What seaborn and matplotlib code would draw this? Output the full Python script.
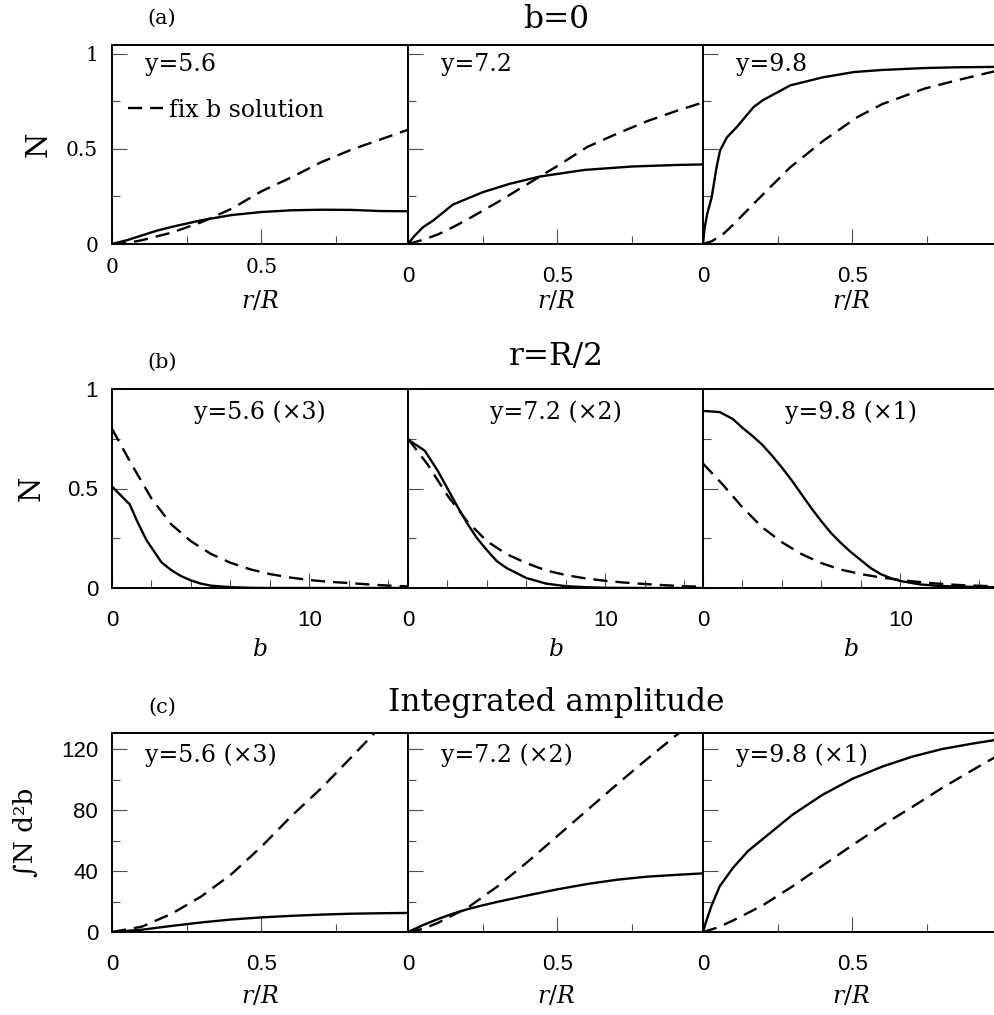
import numpy as np
import pandas as pd
import seaborn as sns
import matplotlib.pyplot as plt
from matplotlib.lines import Line2D
from matplotlib.ticker import MultipleLocator, FixedLocator, FuncFormatter

sns.set_style("ticks")
plt.rcParams['font.family'] = ['DejaVu Serif']
plt.rcParams['mathtext.fontset'] = 'dejavuserif'
plt.rcParams['text.color'] = 'black'
plt.rcParams['axes.labelcolor'] = 'black'
plt.rcParams['xtick.labelcolor'] = 'black'
plt.rcParams['ytick.labelcolor'] = 'black'

SANS = 'Liberation Sans'
SERIF = 'DejaVu Serif'

# ---------------- (a) b = 0 : N vs r/R ----------------
a56_r_sol = [0, 0.05, 0.1, 0.15, 0.2, 0.3, 0.4, 0.5, 0.6, 0.7, 0.8, 0.9, 0.99]
a56_N_sol = [0, 0.02, 0.045, 0.07, 0.09, 0.125, 0.152, 0.168, 0.177, 0.18, 0.179, 0.173, 0.172]
a56_r_fix = [0, 0.05, 0.1, 0.2, 0.3, 0.4, 0.5, 0.6, 0.7, 0.8, 0.9, 0.99]
a56_N_fix = [0, 0.005, 0.02, 0.06, 0.115, 0.185, 0.277, 0.35, 0.43, 0.495, 0.55, 0.6]

a72_r_sol = [0, 0.02, 0.05, 0.084, 0.15, 0.25, 0.34, 0.44, 0.59, 0.75, 0.9, 0.99]
a72_N_sol = [0, 0.04, 0.088, 0.123, 0.207, 0.272, 0.316, 0.354, 0.389, 0.407, 0.415, 0.418]
a72_r_fix = [0, 0.05, 0.1, 0.15, 0.2, 0.3, 0.4, 0.5, 0.6, 0.7, 0.8, 0.9, 0.99]
a72_N_fix = [0, 0.022, 0.05, 0.088, 0.13, 0.22, 0.315, 0.41, 0.51, 0.58, 0.645, 0.7, 0.745]

a98_r_sol = [0, 0.005, 0.014, 0.029, 0.045, 0.057, 0.08, 0.113, 0.169, 0.2, 0.292, 0.4, 0.505, 0.6, 0.741, 0.85, 0.98]
a98_N_sol = [0, 0.08, 0.158, 0.245, 0.4, 0.491, 0.56, 0.614, 0.719, 0.755, 0.833, 0.875, 0.903, 0.914, 0.924, 0.928, 0.93]
a98_r_fix = [0, 0.03, 0.068, 0.1, 0.18, 0.292, 0.404, 0.516, 0.6, 0.741, 0.85, 0.965, 0.98]
a98_N_fix = [0, 0.015, 0.053, 0.1, 0.228, 0.403, 0.544, 0.666, 0.735, 0.816, 0.86, 0.903, 0.907]

# ---------------- (b) r = R/2 : N vs b ----------------
b_grid = [0, 1, 2, 3, 4, 5, 6, 7, 8, 9, 10, 11, 12, 13, 14, 15]

b56_b_sol = [0, 0.9, 1.3, 1.75, 2.5, 3, 3.5, 4, 4.5, 5, 6, 7, 8, 10, 12, 15]
b56_N_sol = [0.51, 0.42, 0.33, 0.24, 0.13, 0.09, 0.06, 0.038, 0.022, 0.012, 0.004, 0.001, 0, 0, 0, 0]
b56_N_fix = [0.8, 0.62, 0.45, 0.32, 0.235, 0.172, 0.127, 0.094, 0.07, 0.053, 0.04, 0.031, 0.025, 0.018, 0.012, 0.008]

b72_b_sol = [0, 0.85, 1.5, 2, 2.5, 3, 3.5, 4, 4.5, 5, 6, 7, 8, 9, 10, 12, 15]
b72_N_sol = [0.746, 0.69, 0.59, 0.5, 0.41, 0.325, 0.25, 0.19, 0.135, 0.1, 0.05, 0.022, 0.009, 0.004, 0.001, 0, 0]
b72_N_fix = [0.75, 0.62, 0.465, 0.335, 0.235, 0.17, 0.125, 0.088, 0.065, 0.048, 0.036, 0.027, 0.02, 0.014, 0.009, 0.006]

b98_b_sol = [0, 0.85, 1.5, 2, 2.5, 3, 3.5, 4, 4.5, 5, 5.5, 6, 6.5, 7, 7.5, 8, 8.5, 9, 9.5, 10, 11, 12, 13, 14, 15]
b98_N_sol = [0.89, 0.884, 0.85, 0.805, 0.765, 0.72, 0.665, 0.605, 0.54, 0.47, 0.4, 0.335, 0.275, 0.225, 0.18,
             0.14, 0.1, 0.07, 0.05, 0.035, 0.018, 0.01, 0.007, 0.005, 0.004]
b98_N_fix = [0.625, 0.52, 0.405, 0.305, 0.23, 0.17, 0.125, 0.092, 0.07, 0.053, 0.04, 0.03, 0.021, 0.015, 0.011, 0.008]

# ---------------- (c) integrated amplitude vs r/R ----------------
c56_r = [0, 0.1, 0.2, 0.3, 0.4, 0.5, 0.6, 0.7, 0.8, 0.9, 0.99]
c56_I_sol = [0, 1.5, 4, 6.3, 8.2, 9.6, 10.6, 11.4, 12, 12.3, 12.5]
c56_I_fix = [0, 3.5, 12, 23.5, 38, 56, 76, 94.3, 114.5, 135, 153]

c72_r_sol = [0, 0.05, 0.1, 0.15, 0.2, 0.25, 0.3, 0.4, 0.5, 0.6, 0.7, 0.8, 0.9, 0.99]
c72_I_sol = [0, 4.5, 8.5, 12, 15, 17.5, 19.8, 24, 28, 31.5, 34.3, 36.3, 37.5, 38.5]
c72_r_fix = [0, 0.05, 0.1, 0.2, 0.3, 0.4, 0.5, 0.6, 0.7, 0.8, 0.9, 0.99]
c72_I_fix = [0, 2, 6, 16, 30, 46, 63, 80, 97, 113.5, 129.5, 144]

c98_r_sol = [0, 0.009, 0.028, 0.056, 0.1, 0.15, 0.2, 0.3, 0.4, 0.5, 0.6, 0.7, 0.8, 0.9, 0.98]
c98_I_sol = [0, 6, 17, 30, 42, 53, 61, 77, 90, 100.5, 108.5, 115, 120, 123.5, 126]
c98_r_fix = [0, 0.05, 0.1, 0.2, 0.3, 0.4, 0.5, 0.6, 0.7, 0.8, 0.9, 0.98]
c98_I_fix = [0, 3, 7.5, 17.5, 30, 43.5, 57, 70, 82, 94.5, 106, 115]

row_titles = ["b=0", "r=R/2", "Integrated amplitude"]
row_tags = ["(a)", "(b)", "(c)"]
a_labels = ["y=5.6", "y=7.2", "y=9.8"]
bc_labels = ["y=5.6 (×3)", "y=7.2 (×2)", "y=9.8 (×1)"]

DASH = (0, (6, 3.4))
W, H = 994, 1015
fig = plt.figure(figsize=(W / 100, H / 100), dpi=100)

col_left = [112, 408, 703]
pw = 296
row_top = [45, 389, 733]
ph = 199


def make_ax(i, j):
    return fig.add_axes([col_left[j] / W, 1 - (row_top[i] + ph) / H, pw / W, ph / H])


def draw(ax, x, y, dashed=False):
    sns.lineplot(x=x, y=y, ax=ax, color='black', lw=1.7, estimator=None, sort=False,
                 linestyle=DASH if dashed else '-')


fmt = FuncFormatter(lambda v, p: f"{v:g}")

series = [
    [(a56_r_sol, a56_N_sol, a56_r_fix, a56_N_fix),
     (a72_r_sol, a72_N_sol, a72_r_fix, a72_N_fix),
     (a98_r_sol, a98_N_sol, a98_r_fix, a98_N_fix)],
    [(b56_b_sol, b56_N_sol, b_grid, b56_N_fix),
     (b72_b_sol, b72_N_sol, b_grid, b72_N_fix),
     (b98_b_sol, b98_N_sol, b_grid, b98_N_fix)],
    [(c56_r, c56_I_sol, c56_r, c56_I_fix),
     (c72_r_sol, c72_I_sol, c72_r_fix, c72_I_fix),
     (c98_r_sol, c98_I_sol, c98_r_fix, c98_I_fix)],
]

for i in range(3):
    for j in range(3):
        ax = make_ax(i, j)
        xs, ys, xf, yf = series[i][j]
        draw(ax, xs, ys)
        draw(ax, xf, yf, dashed=True)

        if i == 1:
            ax.set_xlim(0, 15)
            ax.set_ylim(0, 1.0)
            ax.xaxis.set_major_locator(FixedLocator([0, 10]))
            ax.xaxis.set_minor_locator(MultipleLocator(2))
            ax.yaxis.set_major_locator(MultipleLocator(0.5))
            ax.yaxis.set_minor_locator(MultipleLocator(0.25))
            xlab = r"$b$"
        else:
            ax.set_xlim(0, 0.99)
            ax.xaxis.set_major_locator(MultipleLocator(0.5))
            ax.xaxis.set_minor_locator(MultipleLocator(0.25))
            xlab = r"$r/R$"
            if i == 0:
                ax.set_ylim(0, 1.045)
                ax.yaxis.set_major_locator(MultipleLocator(0.5))
                ax.yaxis.set_minor_locator(MultipleLocator(0.25))
            else:
                ax.set_ylim(0, 130.5)
                ax.yaxis.set_major_locator(MultipleLocator(40))
                ax.yaxis.set_minor_locator(MultipleLocator(20))
        ax.xaxis.set_major_formatter(fmt)
        ax.yaxis.set_major_formatter(fmt)

        ax.tick_params(which='both', direction='in', top=False, right=False,
                       color='0.3', labelcolor='black')
        ax.tick_params(which='major', length=10.5, width=0.8)
        ax.tick_params(which='minor', length=5.5, width=0.8)
        serif_ticks = (i == 0 and j == 0)
        ax.tick_params(axis='x', labelsize=14.5 if serif_ticks else 16,
                       labelfontfamily=SERIF if serif_ticks else SANS,
                       pad=10 if serif_ticks else 16)
        ax.tick_params(axis='y', labelsize=14.5 if i == 0 else 16,
                       labelfontfamily=SERIF if i == 0 else SANS, pad=10)
        if j > 0:
            ax.tick_params(axis='y', labelleft=False)
        for s in ax.spines.values():
            s.set_linewidth(1.4)
            s.set_color('black')

        ax.set_xlabel(xlab, fontsize=17, color='black')
        ax.xaxis.set_label_coords(0.5, [-0.225, -0.25, -0.262][i])
        ax.set_ylabel("")
        if j == 0:
            ax.set_ylabel(["N", "N", "∫N d²b"][i], fontsize=[21, 21, 19][i], family=SERIF, color='black')
            ax.yaxis.set_label_coords([-0.2, -0.225, -0.25][i], 0.5)

        if i == 0:
            ax.text(0.11, 0.9, a_labels[j], transform=ax.transAxes, fontsize=17,
                    ha='left', va='center', color='black')
            if j == 0:
                key = Line2D([], [], color='black', lw=1.7, linestyle=DASH)
                ax.legend(handles=[key], labels=["fix b solution"], loc='center left',
                          bbox_to_anchor=(0.022, 0.673), frameon=False, fontsize=17,
                          handlelength=1.5, handletextpad=0.22, borderaxespad=0,
                          labelcolor='black')
        elif i == 1:
            ax.text(0.5, 0.885, bc_labels[j], transform=ax.transAxes, fontsize=17,
                    ha='center', va='center', color='black')
        else:
            ax.text(0.11, 0.89, bc_labels[j], transform=ax.transAxes, fontsize=17,
                    ha='left', va='center', color='black')

# row headings
head_y = [20, 357, 702]
tag_y = [18, 362, 707]
for i in range(3):
    fig.text(556 / W, 1 - head_y[i] / H, row_titles[i], fontsize=22.5, ha='center', va='center')
    fig.text(162 / W, 1 - tag_y[i] / H, row_tags[i], fontsize=15, ha='center', va='center')

fig.savefig("out.png", dpi=100, facecolor='white')
